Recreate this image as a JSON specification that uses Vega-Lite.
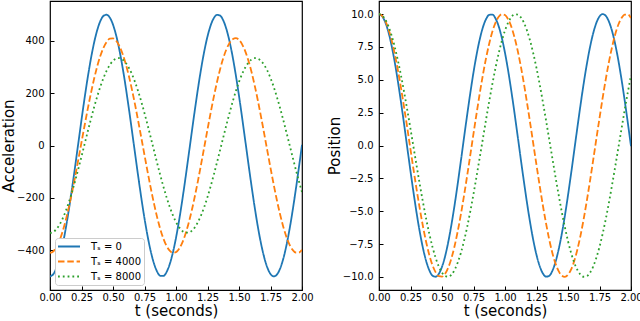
{
  "$schema": "https://vega.github.io/schema/vega-lite/v6.json",
  "padding": {"left": 0, "top": 0, "right": 0, "bottom": 0},
  "background": "white",
  "config": {
    "font": "DejaVu Sans",
    "view": {"stroke": "black", "strokeWidth": 1.2},
    "axis": {
      "grid": false,
      "domain": false,
      "tickColor": "black",
      "tickSize": -4,
      "tickWidth": 1,
      "labelFontSize": 10,
      "labelColor": "black",
      "labelFlush": false,
      "titleFontSize": 15,
      "titleFontWeight": "normal",
      "titleColor": "black"
    },
    "legend": {
      "orient": "bottom-left",
      "offset": 5,
      "fillColor": "white",
      "strokeColor": "#cccccc",
      "cornerRadius": 3,
      "padding": 2,
      "symbolType": "stroke",
      "symbolSize": 484,
      "symbolStrokeWidth": 1.8,
      "labelFontSize": 10,
      "labelColor": "black",
      "labelOffset": 10,
      "clipHeight": 13,
      "rowPadding": 2,
      "columnPadding": 0
    }
  },
  "datasets": {
    "d": [
{"t":0,"s":"0","p":10.00,"a":-500.0},{"t":0.025,"s":"0","p":9.84,"a":-492.2},{"t":0.05,"s":"0","p":9.38,"a":-469.1},{"t":0.075,"s":"0","p":8.63,"a":-431.3},{"t":0.1,"s":"0","p":7.60,"a":-380.1},{"t":0.125,"s":"0","p":6.34,"a":-317.1},{"t":0.15,"s":"0","p":4.88,"a":-244.2},{"t":0.175,"s":"0","p":3.27,"a":-163.6},{"t":0.2,"s":"0","p":1.56,"a":-78.0},{"t":0.225,"s":"0","p":-0.20,"a":10.1},
{"t":0.25,"s":"0","p":-1.96,"a":97.9},{"t":0.275,"s":"0","p":-3.65,"a":182.6},{"t":0.3,"s":"0","p":-5.23,"a":261.6},{"t":0.325,"s":"0","p":-6.65,"a":332.4},{"t":0.35,"s":"0","p":-7.86,"a":392.9},{"t":0.375,"s":"0","p":-8.82,"a":441.2},{"t":0.4,"s":"0","p":-9.51,"a":475.7},{"t":0.425,"s":"0","p":-9.91,"a":495.4},{"t":0.45,"s":"0","p":-9.99,"a":499.6},{"t":0.475,"s":"0","p":-9.77,"a":488.3},
{"t":0.5,"s":"0","p":-9.23,"a":461.7},{"t":0.525,"s":"0","p":-8.42,"a":420.8},{"t":0.55,"s":"0","p":-7.33,"a":366.7},{"t":0.575,"s":"0","p":-6.02,"a":301.2},{"t":0.6,"s":"0","p":-4.53,"a":226.3},{"t":0.625,"s":"0","p":-2.89,"a":144.4},{"t":0.65,"s":"0","p":-1.16,"a":58.0},{"t":0.675,"s":"0","p":0.61,"a":-30.3},{"t":0.7,"s":"0","p":2.35,"a":-117.6},{"t":0.725,"s":"0","p":4.02,"a":-201.2},
{"t":0.75,"s":"0","p":5.57,"a":-278.6},{"t":0.775,"s":"0","p":6.94,"a":-347.2},{"t":0.8,"s":"0","p":8.10,"a":-405.1},{"t":0.825,"s":"0","p":9.01,"a":-450.3},{"t":0.85,"s":"0","p":9.63,"a":-481.5},{"t":0.875,"s":"0","p":9.95,"a":-497.7},{"t":0.9,"s":"0","p":9.97,"a":-498.4},{"t":0.925,"s":"0","p":9.67,"a":-483.5},{"t":0.95,"s":"0","p":9.07,"a":-453.6},{"t":0.975,"s":"0","p":8.19,"a":-409.5},
{"t":1.0,"s":"0","p":7.05,"a":-352.7},{"t":1.025,"s":"0","p":5.70,"a":-284.9},{"t":1.05,"s":"0","p":4.16,"a":-208.2},{"t":1.075,"s":"0","p":2.50,"a":-125.0},{"t":1.1,"s":"0","p":0.76,"a":-37.9},{"t":1.125,"s":"0","p":-1.01,"a":50.4},{"t":1.15,"s":"0","p":-2.74,"a":137.1},{"t":1.175,"s":"0","p":-4.39,"a":219.5},{"t":1.2,"s":"0","p":-5.90,"a":295.1},{"t":1.225,"s":"0","p":-7.23,"a":361.5},
{"t":1.25,"s":"0","p":-8.33,"a":416.6},{"t":1.275,"s":"0","p":-9.17,"a":458.7},{"t":1.3,"s":"0","p":-9.73,"a":486.6},{"t":1.325,"s":"0","p":-9.98,"a":499.2},{"t":1.35,"s":"0","p":-9.93,"a":496.3},{"t":1.375,"s":"0","p":-9.56,"a":478.0},{"t":1.4,"s":"0","p":-8.89,"a":444.7},{"t":1.425,"s":"0","p":-7.95,"a":397.6},{"t":1.45,"s":"0","p":-6.76,"a":338.1},{"t":1.475,"s":"0","p":-5.36,"a":268.0},
{"t":1.5,"s":"0","p":-3.79,"a":189.6},{"t":1.525,"s":"0","p":-2.11,"a":105.3},{"t":1.55,"s":"0","p":-0.35,"a":17.7},{"t":1.575,"s":"0","p":1.41,"a":-70.4},{"t":1.6,"s":"0","p":3.13,"a":-156.4},{"t":1.625,"s":"0","p":4.75,"a":-237.5},{"t":1.65,"s":"0","p":6.22,"a":-311.2},{"t":1.675,"s":"0","p":7.50,"a":-375.1},{"t":1.7,"s":"0","p":8.55,"a":-427.4},{"t":1.725,"s":"0","p":9.33,"a":-466.4},
{"t":1.75,"s":"0","p":9.82,"a":-490.8},{"t":1.775,"s":"0","p":10.00,"a":-499.9},{"t":1.8,"s":"0","p":9.87,"a":-493.5},{"t":1.825,"s":"0","p":9.43,"a":-471.7},{"t":1.85,"s":"0","p":8.70,"a":-435.1},{"t":1.875,"s":"0","p":7.70,"a":-385.0},{"t":1.9,"s":"0","p":6.46,"a":-322.9},{"t":1.925,"s":"0","p":5.02,"a":-250.8},{"t":1.95,"s":"0","p":3.42,"a":-170.8},{"t":1.975,"s":"0","p":1.71,"a":-85.5},
{"t":2.0,"s":"0","p":-0.05,"a":2.5},
{"t":0,"s":"4000","p":10.00,"a":-410.0},{"t":0.025,"s":"4000","p":9.87,"a":-404.8},{"t":0.05,"s":"4000","p":9.49,"a":-389.2},{"t":0.075,"s":"4000","p":8.87,"a":-363.6},{"t":0.1,"s":"4000","p":8.02,"a":-328.8},{"t":0.125,"s":"4000","p":6.96,"a":-285.5},{"t":0.15,"s":"4000","p":5.73,"a":-235.0},{"t":0.175,"s":"4000","p":4.35,"a":-178.4},{"t":0.2,"s":"4000","p":2.86,"a":-117.3},{"t":0.225,"s":"4000","p":1.30,"a":-53.2},
{"t":0.25,"s":"4000","p":-0.30,"a":12.3},{"t":0.275,"s":"4000","p":-1.89,"a":77.5},{"t":0.3,"s":"4000","p":-3.43,"a":140.6},{"t":0.325,"s":"4000","p":-4.88,"a":200.2},{"t":0.35,"s":"4000","p":-6.21,"a":254.7},{"t":0.375,"s":"4000","p":-7.38,"a":302.7},{"t":0.4,"s":"4000","p":-8.36,"a":342.9},{"t":0.425,"s":"4000","p":-9.13,"a":374.3},{"t":0.45,"s":"4000","p":-9.66,"a":396.2},{"t":0.475,"s":"4000","p":-9.95,"a":407.9},
{"t":0.5,"s":"4000","p":-9.98,"a":409.3},{"t":0.525,"s":"4000","p":-9.76,"a":400.1},{"t":0.55,"s":"4000","p":-9.29,"a":380.7},{"t":0.575,"s":"4000","p":-8.58,"a":351.6},{"t":0.6,"s":"4000","p":-7.65,"a":313.5},{"t":0.625,"s":"4000","p":-6.52,"a":267.4},{"t":0.65,"s":"4000","p":-5.23,"a":214.4},{"t":0.675,"s":"4000","p":-3.80,"a":156.0},{"t":0.7,"s":"4000","p":-2.28,"a":93.5},{"t":0.725,"s":"4000","p":-0.70,"a":28.7},
{"t":0.75,"s":"4000","p":0.90,"a":-36.8},{"t":0.775,"s":"4000","p":2.47,"a":-101.4},{"t":0.8,"s":"4000","p":3.99,"a":-163.5},{"t":0.825,"s":"4000","p":5.40,"a":-221.3},{"t":0.85,"s":"4000","p":6.67,"a":-273.5},{"t":0.875,"s":"4000","p":7.77,"a":-318.7},{"t":0.9,"s":"4000","p":8.68,"a":-355.7},{"t":0.925,"s":"4000","p":9.36,"a":-383.7},{"t":0.95,"s":"4000","p":9.80,"a":-401.8},{"t":0.975,"s":"4000","p":9.99,"a":-409.7},
{"t":1.0,"s":"4000","p":9.93,"a":-407.1},{"t":1.025,"s":"4000","p":9.61,"a":-394.0},{"t":1.05,"s":"4000","p":9.05,"a":-370.9},{"t":1.075,"s":"4000","p":8.25,"a":-338.3},{"t":1.1,"s":"4000","p":7.25,"a":-297.1},{"t":1.125,"s":"4000","p":6.06,"a":-248.3},{"t":1.15,"s":"4000","p":4.71,"a":-193.1},{"t":1.175,"s":"4000","p":3.24,"a":-133.0},{"t":1.2,"s":"4000","p":1.69,"a":-69.5},{"t":1.225,"s":"4000","p":0.10,"a":-4.2},
{"t":1.25,"s":"4000","p":-1.49,"a":61.2},{"t":1.275,"s":"4000","p":-3.05,"a":125.1},{"t":1.3,"s":"4000","p":-4.53,"a":185.7},{"t":1.325,"s":"4000","p":-5.89,"a":241.6},{"t":1.35,"s":"4000","p":-7.11,"a":291.3},{"t":1.375,"s":"4000","p":-8.14,"a":333.6},{"t":1.4,"s":"4000","p":-8.96,"a":367.3},{"t":1.425,"s":"4000","p":-9.55,"a":391.6},{"t":1.45,"s":"4000","p":-9.90,"a":406.0},{"t":1.475,"s":"4000","p":-10.00,"a":409.9},
{"t":1.5,"s":"4000","p":-9.84,"a":403.4},{"t":1.525,"s":"4000","p":-9.43,"a":386.5},{"t":1.55,"s":"4000","p":-8.78,"a":359.8},{"t":1.575,"s":"4000","p":-7.90,"a":323.9},{"t":1.6,"s":"4000","p":-6.82,"a":279.6},{"t":1.625,"s":"4000","p":-5.57,"a":228.3},{"t":1.65,"s":"4000","p":-4.17,"a":171.1},{"t":1.675,"s":"4000","p":-2.67,"a":109.5},{"t":1.7,"s":"4000","p":-1.10,"a":45.1},{"t":1.725,"s":"4000","p":0.50,"a":-20.4},
{"t":1.75,"s":"4000","p":2.08,"a":-85.4},{"t":1.775,"s":"4000","p":3.62,"a":-148.3},{"t":1.8,"s":"4000","p":5.06,"a":-207.3},{"t":1.825,"s":"4000","p":6.37,"a":-261.0},{"t":1.85,"s":"4000","p":7.51,"a":-308.1},{"t":1.875,"s":"4000","p":8.47,"a":-347.3},{"t":1.9,"s":"4000","p":9.21,"a":-377.6},{"t":1.925,"s":"4000","p":9.71,"a":-398.2},{"t":1.95,"s":"4000","p":9.97,"a":-408.7},{"t":1.975,"s":"4000","p":9.97,"a":-408.7},
{"t":2.0,"s":"4000","p":9.71,"a":-398.3},
{"t":0,"s":"8000","p":10.00,"a":-334.0},{"t":0.025,"s":"8000","p":9.90,"a":-330.5},{"t":0.05,"s":"8000","p":9.59,"a":-320.2},{"t":0.075,"s":"8000","p":9.08,"a":-303.1},{"t":0.1,"s":"8000","p":8.38,"a":-279.8},{"t":0.125,"s":"8000","p":7.50,"a":-250.6},{"t":0.15,"s":"8000","p":6.47,"a":-216.2},{"t":0.175,"s":"8000","p":5.31,"a":-177.3},{"t":0.2,"s":"8000","p":4.03,"a":-134.6},{"t":0.225,"s":"8000","p":2.67,"a":-89.2},
{"t":0.25,"s":"8000","p":1.26,"a":-42.0},{"t":0.275,"s":"8000","p":-0.19,"a":6.2},{"t":0.3,"s":"8000","p":-1.62,"a":54.2},{"t":0.325,"s":"8000","p":-3.03,"a":101.1},{"t":0.35,"s":"8000","p":-4.37,"a":145.9},{"t":0.375,"s":"8000","p":-5.62,"a":187.6},{"t":0.4,"s":"8000","p":-6.75,"a":225.4},{"t":0.425,"s":"8000","p":-7.74,"a":258.6},{"t":0.45,"s":"8000","p":-8.57,"a":286.3},{"t":0.475,"s":"8000","p":-9.22,"a":308.1},
{"t":0.5,"s":"8000","p":-9.68,"a":323.5},{"t":0.525,"s":"8000","p":-9.94,"a":332.1},{"t":0.55,"s":"8000","p":-9.99,"a":333.8},{"t":0.575,"s":"8000","p":-9.84,"a":328.5},{"t":0.6,"s":"8000","p":-9.47,"a":316.4},{"t":0.625,"s":"8000","p":-8.91,"a":297.7},{"t":0.65,"s":"8000","p":-8.17,"a":272.8},{"t":0.675,"s":"8000","p":-7.25,"a":242.2},{"t":0.7,"s":"8000","p":-6.19,"a":206.6},{"t":0.725,"s":"8000","p":-4.99,"a":166.7},
{"t":0.75,"s":"8000","p":-3.69,"a":123.2},{"t":0.775,"s":"8000","p":-2.31,"a":77.3},{"t":0.8,"s":"8000","p":-0.89,"a":29.7},{"t":0.825,"s":"8000","p":0.55,"a":-18.5},{"t":0.85,"s":"8000","p":1.99,"a":-66.4},{"t":0.875,"s":"8000","p":3.38,"a":-112.8},{"t":0.9,"s":"8000","p":4.70,"a":-156.9},{"t":0.925,"s":"8000","p":5.92,"a":-197.7},{"t":0.95,"s":"8000","p":7.02,"a":-234.4},{"t":0.975,"s":"8000","p":7.97,"a":-266.2},
{"t":1.0,"s":"8000","p":8.76,"a":-292.5},{"t":1.025,"s":"8000","p":9.36,"a":-312.7},{"t":1.05,"s":"8000","p":9.77,"a":-326.3},{"t":1.075,"s":"8000","p":9.98,"a":-333.2},{"t":1.1,"s":"8000","p":9.97,"a":-333.1},{"t":1.125,"s":"8000","p":9.76,"a":-326.1},{"t":1.15,"s":"8000","p":9.35,"a":-312.2},{"t":1.175,"s":"8000","p":8.74,"a":-291.9},{"t":1.2,"s":"8000","p":7.95,"a":-265.5},{"t":1.225,"s":"8000","p":6.99,"a":-233.6},
{"t":1.25,"s":"8000","p":5.89,"a":-196.7},{"t":1.275,"s":"8000","p":4.67,"a":-155.8},{"t":1.3,"s":"8000","p":3.34,"a":-111.7},{"t":1.325,"s":"8000","p":1.95,"a":-65.2},{"t":1.35,"s":"8000","p":0.52,"a":-17.3},{"t":1.375,"s":"8000","p":-0.92,"a":30.9},{"t":1.4,"s":"8000","p":-2.35,"a":78.4},{"t":1.425,"s":"8000","p":-3.72,"a":124.3},{"t":1.45,"s":"8000","p":-5.02,"a":167.7},{"t":1.475,"s":"8000","p":-6.21,"a":207.5},
{"t":1.5,"s":"8000","p":-7.28,"a":243.0},{"t":1.525,"s":"8000","p":-8.19,"a":273.5},{"t":1.55,"s":"8000","p":-8.93,"a":298.2},{"t":1.575,"s":"8000","p":-9.48,"a":316.8},{"t":1.6,"s":"8000","p":-9.84,"a":328.7},{"t":1.625,"s":"8000","p":-9.99,"a":333.8},{"t":1.65,"s":"8000","p":-9.94,"a":331.9},{"t":1.675,"s":"8000","p":-9.68,"a":323.2},{"t":1.7,"s":"8000","p":-9.21,"a":307.6},{"t":1.725,"s":"8000","p":-8.55,"a":285.7},
{"t":1.75,"s":"8000","p":-7.72,"a":257.8},{"t":1.775,"s":"8000","p":-6.72,"a":224.6},{"t":1.8,"s":"8000","p":-5.59,"a":186.6},{"t":1.825,"s":"8000","p":-4.34,"a":144.8},{"t":1.85,"s":"8000","p":-2.99,"a":99.9},{"t":1.875,"s":"8000","p":-1.59,"a":53.0},{"t":1.9,"s":"8000","p":-0.15,"a":5.0},{"t":1.925,"s":"8000","p":1.29,"a":-43.1},{"t":1.95,"s":"8000","p":2.71,"a":-90.4},{"t":1.975,"s":"8000","p":4.06,"a":-135.7},
{"t":2.0,"s":"8000","p":5.34,"a":-178.3}
    ]
  },
  "data": {"name": "d"},
  "hconcat": [
    {
      "width": 252,
      "height": 289,
      "mark": {"type": "line", "strokeWidth": 1.8, "interpolate": "monotone", "clip": true},
      "encoding": {
        "x": {"field": "t", "type": "quantitative", "scale": {"domain": [0, 2], "nice": false, "zero": false},
              "axis": {"title": "t (seconds)", "values": [0, 0.25, 0.5, 0.75, 1, 1.25, 1.5, 1.75, 2], "format": ".2f", "labelPadding": 6, "titlePadding": 1}},
        "y": {"field": "a", "type": "quantitative", "scale": {"domain": [-552, 552], "nice": false, "zero": false},
              "axis": {"title": "Acceleration", "values": [-400, -200, 0, 200, 400], "format": "d", "labelPadding": 10, "titlePadding": 0}},
        "color": {"field": "s", "type": "nominal", "scale": {"domain": ["0", "4000", "8000"], "range": ["#1f77b4", "#ff7f0e", "#2ca02c"]},
                  "legend": {"title": null, "labelExpr": "'Tₛ = ' + datum.label"}},
        "strokeDash": {"field": "s", "type": "nominal", "scale": {"domain": ["0", "4000", "8000"], "range": [[1, 0], [6.5, 2.8], [1.8, 3]]},
                  "legend": {"title": null, "labelExpr": "'Tₛ = ' + datum.label"}}
      }
    },
    {
      "width": 252,
      "height": 289,
      "mark": {"type": "line", "strokeWidth": 1.8, "interpolate": "monotone", "clip": true},
      "encoding": {
        "x": {"field": "t", "type": "quantitative", "scale": {"domain": [0, 2], "nice": false, "zero": false},
              "axis": {"title": "t (seconds)", "values": [0, 0.25, 0.5, 0.75, 1, 1.25, 1.5, 1.75, 2], "format": ".2f", "labelPadding": 6, "titlePadding": 1}},
        "y": {"field": "p", "type": "quantitative", "scale": {"domain": [-11, 11], "nice": false, "zero": false},
              "axis": {"title": "Position", "values": [-10, -7.5, -5, -2.5, 0, 2.5, 5, 7.5, 10], "format": ".1f", "labelPadding": 10, "titlePadding": 0}},
        "color": {"field": "s", "type": "nominal", "scale": {"domain": ["0", "4000", "8000"], "range": ["#1f77b4", "#ff7f0e", "#2ca02c"]}, "legend": null},
        "strokeDash": {"field": "s", "type": "nominal", "scale": {"domain": ["0", "4000", "8000"], "range": [[1, 0], [6.5, 2.8], [1.8, 3]]}, "legend": null}
      }
    }
  ],
  "spacing": 12,
  "resolve": {"legend": {"color": "independent", "strokeDash": "independent"}}
}
